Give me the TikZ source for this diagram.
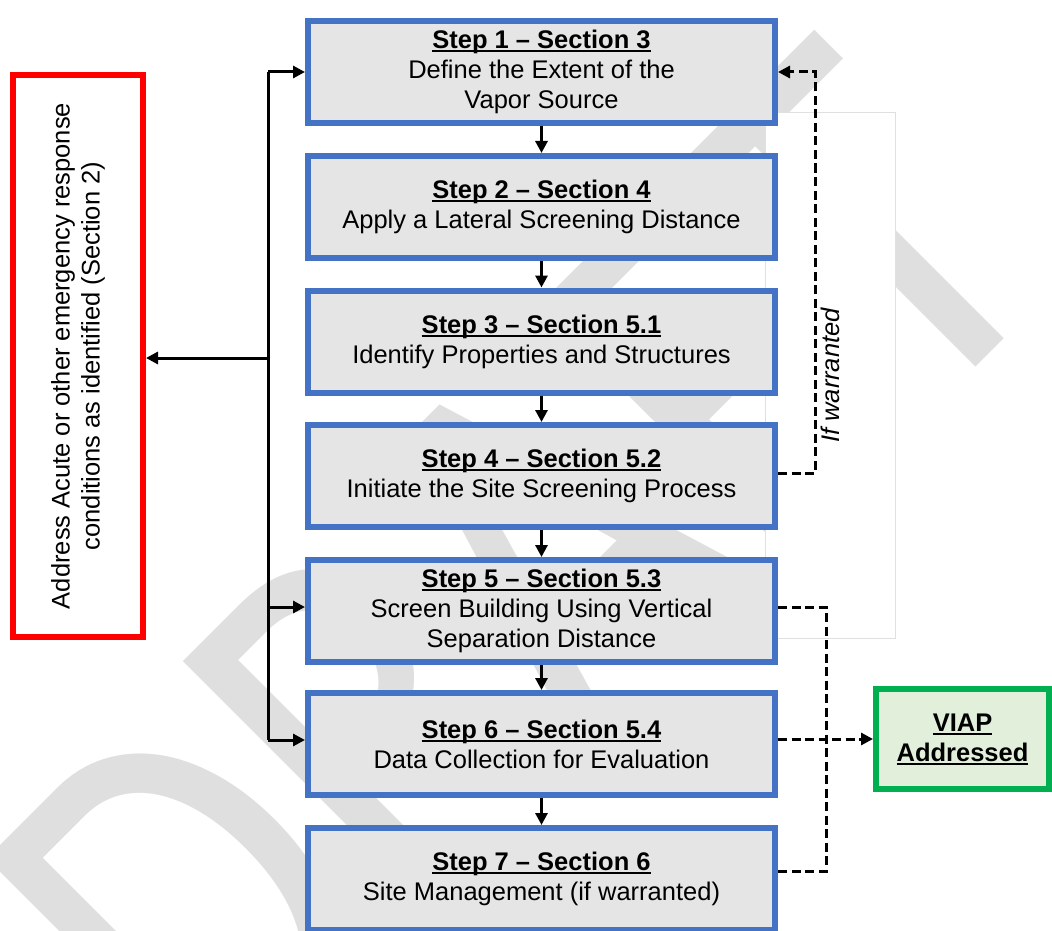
\documentclass[tikz,border=0pt]{standalone}
\usepackage{fontspec}
\setmainfont{Liberation Sans}
\newfontfamily\draftfont{Carlito}
\usetikzlibrary{arrows.meta, positioning}

\definecolor{stepblue}{HTML}{4472C4}
\definecolor{stepfill}{HTML}{E5E5E5}
\definecolor{viapgreen}{HTML}{00B050}
\definecolor{viapfill}{HTML}{E2EFDA}
\definecolor{draftgray}{HTML}{DFDFDF}

% bold title with a heavy underline
\newcommand\titleul[1]{\setbox0\hbox{\bfseries #1}\rlap{\rule[-3.5pt]{\wd0}{2pt}}\box0}

\tikzset{
	stepbox/.style = {draw=stepblue, fill=stepfill, line width=6pt, minimum width=467pt, minimum height=102pt, inner sep=0pt, align=center, font=\fontsize{25.5}{30}\selectfont},
	acutebox/.style = {draw=red, fill=white, line width=6pt, minimum width=562pt, minimum height=130pt, inner sep=0pt, align=center, rotate=90, font=\fontsize{25.5}{30}\selectfont},
	viapbox/.style = {draw=viapgreen, fill=viapfill, line width=6pt, minimum width=173pt, minimum height=100pt, inner sep=0pt, align=center, font=\fontsize{25.5}{30}\selectfont},
	warrbox/.style = {draw=black!12, fill=white, line width=1pt, minimum width=525pt, minimum height=130pt, inner sep=0pt, rotate=90, font=\fontsize{25.5}{30}\selectfont\itshape},
	draft/.style = {rotate=45, yscale=1.22, inner sep=0pt, outer sep=0pt, text=draftgray, font=\draftfont\fontsize{450}{450}\selectfont},
	conn/.style = {line width=3pt},
	dconn/.style = {line width=3pt, dash pattern=on 9pt off 4.5pt}
}

\begin{document}
\begin{tikzpicture}[x=1pt, y=-1pt, >={Triangle[length=12pt, width=12pt]}]
	\useasboundingbox (0,0) rectangle (1052,931);
	\node [draft, anchor=base west] (wm) at (214,1129) {DRAFT};
	\node [warrbox] (warr) at (830,375.5) {If warranted};

	\node [stepbox] (s1) at (541.5,72) {\titleul{Step 1 -- Section 3}\\Define the Extent of the\\Vapor Source};
	\node [stepbox] (s2) at (541.5,207) {\titleul{Step 2 -- Section 4}\\Apply a Lateral Screening Distance};
	\node [stepbox] (s3) at (541.5,341.5) {\titleul{Step 3 -- Section 5.1}\\Identify Properties and Structures};
	\node [stepbox] (s4) at (541.5,476) {\titleul{Step 4 -- Section 5.2}\\Initiate the Site Screening Process};
	\node [stepbox] (s5) at (541.5,611) {\titleul{Step 5 -- Section 5.3}\\Screen Building Using Vertical\\Separation Distance};
	\node [stepbox] (s6) at (541.5,744) {\titleul{Step 6 -- Section 5.4}\\Data Collection for Evaluation};
	\node [stepbox] (s7) at (541.5,879) {\titleul{Step 7 -- Section 6}\\Site Management (if warranted)};

	\node [acutebox] (acute) at (78,356) {Address Acute or other emergency response\\conditions as identified (Section 2)};
	\node [viapbox] (viap) at (962.5,739) {\titleul{VIAP}\\\titleul{Addressed}};

	\draw [conn, ->] (s1) -- (s2);
	\draw [conn, ->] (s2) -- (s3);
	\draw [conn, ->] (s3) -- (s4);
	\draw [conn, ->] (s4) -- (s5);
	\draw [conn, ->] (s5) -- (s6);
	\draw [conn, ->] (s6) -- (s7);

	\coordinate (bustop) at (268,72);
	\coordinate (hub) at (268,358);
	\draw [conn] (bustop) -- ([yshift=4pt]s6.west -| bustop);
	\draw [conn, ->] (bustop) -- (s1.west);
	\draw [conn, ->] ([yshift=4pt]s5.west -| bustop) -- ([yshift=4pt]s5.west);
	\draw [conn, ->] ([yshift=4pt]s6.west -| bustop) -- ([yshift=4pt]s6.west);
	\draw [conn, ->] (hub) -- (hub -| acute.south);

	\draw [dconn, ->] ([yshift=3pt]s4.east) -- ++(37,0) |- (s1.east);
	\draw [dconn] ([yshift=4pt]s5.east) -- ++(48,0) |- ([yshift=8pt]s7.east);
	\draw [dconn, ->] (viap.west -| s6.east) -- (viap.west);
\end{tikzpicture}
\end{document}
